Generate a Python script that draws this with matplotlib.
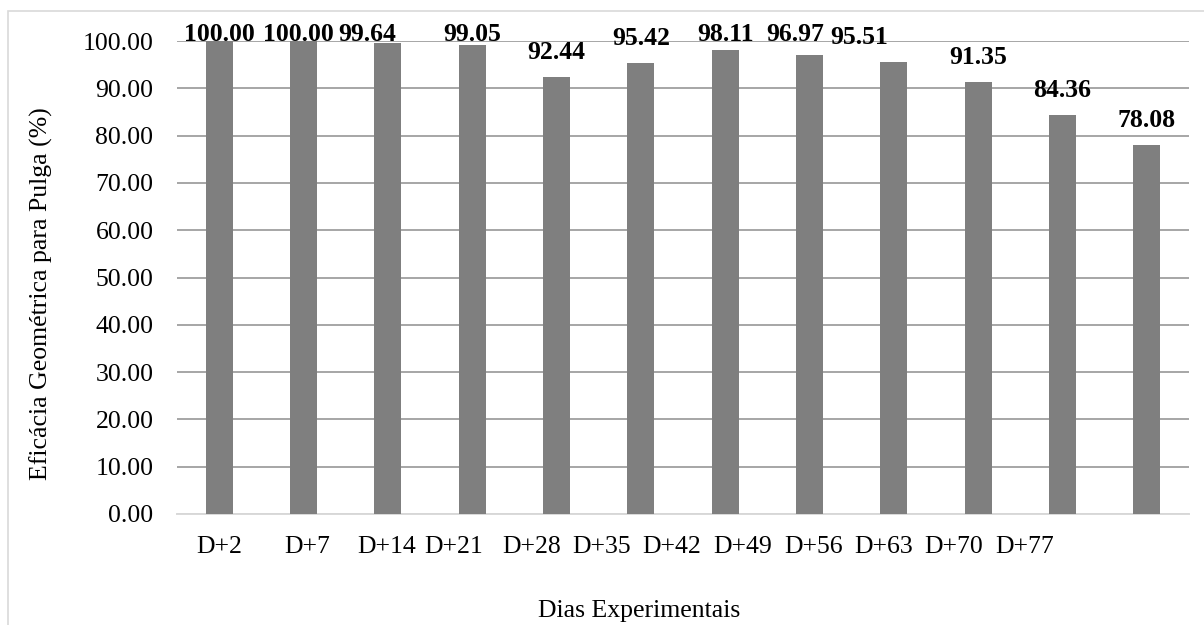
import matplotlib
matplotlib.use('Agg')
import matplotlib.pyplot as plt
from matplotlib.patches import Rectangle
import numpy as np

# flea efficacy per experimental day
dias = ['D+2', 'D+7', 'D+14', 'D+21', 'D+28', 'D+35', 'D+42', 'D+49', 'D+56', 'D+63', 'D+70', 'D+77']
eficacia = [100.00, 100.00, 99.64, 99.05, 92.44, 95.42, 98.11, 96.97, 95.51, 91.35, 84.36, 78.08]

# the category labels drift left of the bars, as laid out in the original sheet
tick_pos = [0.0, 1.04, 1.99, 2.78, 3.70, 4.53, 5.37, 6.21, 7.05, 7.88, 8.71, 9.55]
# sideways nudges of the value labels so they don't collide
label_dx = [0, -0.06, -0.25, 0, 0, 0, 0, -0.17, -0.415, 0, 0, 0]

plt.rcParams['font.family'] = ['Liberation Serif', 'DejaVu Serif']
fs = 18.5

W, H = 1204, 625
fig = plt.figure(figsize=(W / 100, H / 100), dpi=100)
ax = fig.add_axes([177 / W, 1 - 514 / H, (1189 - 177) / W, (514 - 41) / H])

x = np.arange(len(eficacia))
ax.bar(x, eficacia, width=0.32, color='#7f7f7f', zorder=3)

for i, v in enumerate(eficacia):
    ax.text(i + label_dx[i], min(v + 3.8, 99.9), f'{v:.2f}', ha='center', va='baseline',
            fontsize=fs, fontweight='bold', color='black', zorder=4, clip_on=False)

ax.set_xlim(-0.5, len(eficacia) - 0.5)
ax.set_ylim(0, 100)
ax.set_yticks(np.arange(0, 101, 10))
ax.set_yticklabels([f'{t:.2f}' for t in np.arange(0, 101, 10)], fontsize=fs)
ax.set_xticks(tick_pos)
ax.set_xticklabels(dias, fontsize=fs)
ax.tick_params(axis='both', length=0)
ax.tick_params(axis='y', pad=17)
ax.tick_params(axis='x', pad=16)

ax.yaxis.grid(True, color='#a6a6a6', linewidth=1.4, zorder=0)
ax.set_axisbelow(True)
for s in ['top', 'right', 'left']:
    ax.spines[s].set_visible(False)
ax.spines['bottom'].set_color('#d9d9d9')
ax.spines['bottom'].set_linewidth(1.4)
ax.spines['bottom'].set_zorder(2)

fig.text(41 / W, 1 - 294 / H, 'Eficácia Geométrica para Pulga (%)', rotation=90,
         ha='center', va='center', fontsize=fs)
fig.text(639 / W, 1 - 611 / H, 'Dias Experimentais', ha='center', va='center', fontsize=fs)

# chart area frame
fig.patches.append(Rectangle((8 / W, -0.1), 1.2, 1 - 11 / H + 0.1, transform=fig.transFigure,
                             fill=False, edgecolor='#d9d9d9', linewidth=1.2))

fig.savefig('out.png', dpi=100)
